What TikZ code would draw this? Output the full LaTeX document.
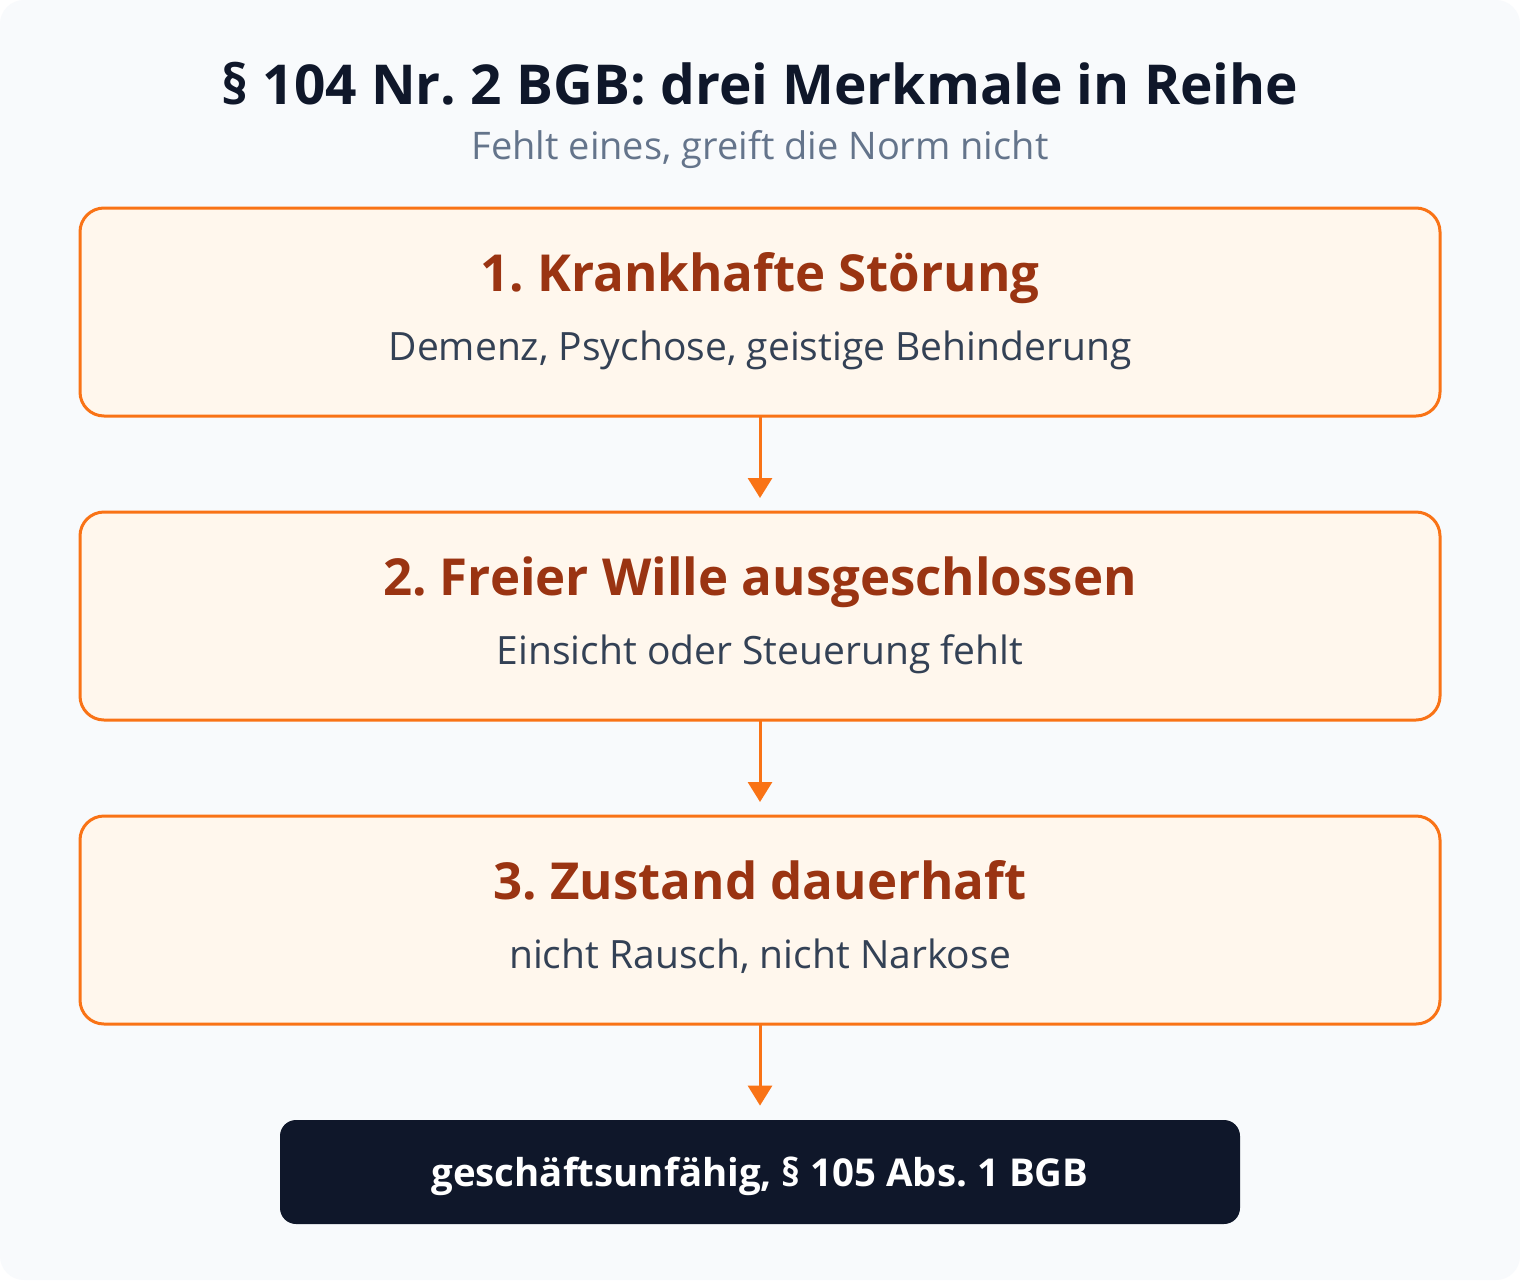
\documentclass[tikz,border=0pt]{standalone}
\usepackage{fontspec}
\setmainfont{Open Sans}[BoldFont={Open Sans Bold}]
\usetikzlibrary{positioning,arrows.meta}
\definecolor{pagebg}{HTML}{F8FAFC}
\definecolor{orangeline}{HTML}{F97316}
\definecolor{orangefill}{HTML}{FFF7ED}
\definecolor{headbrown}{HTML}{9A3412}
\definecolor{subslate}{HTML}{334155}
\definecolor{navy}{HTML}{0F172A}
\definecolor{greytext}{HTML}{64748B}
\frenchspacing

\begin{document}
\begin{tikzpicture}[x=0.5pt,y=-0.5pt,
    merkmal/.style={draw=orangeline,fill=orangefill,line width=1.5pt,
      rounded corners=12pt,minimum width=680pt,minimum height=104pt,
      inner sep=0pt,outer sep=0pt},
    kopf/.style={text=headbrown,font=\bfseries\fontsize{25.5}{30}\selectfont,
      text height=0.75em,text depth=0.25em},
    unter/.style={text=subslate,font=\fontsize{19.5}{23}\selectfont,
      text height=0.75em,text depth=0.25em},
    pfeil/.style={orangeline,line width=1.5pt,
      -{Triangle[width=12pt,length=10pt]},shorten >=7pt}]
      \fill[white] (0,0) rectangle (1520,1280) ;
      \fill[pagebg,rounded corners=12pt] (0,0) rectangle (1520,1280) ;
      \node[text=navy,font=\bfseries\fontsize{27.5}{33}\selectfont] %
      (titel) at (760,84) {§ 104 Nr. 2 BGB: drei Merkmale in Reihe} ;
      \node[text=greytext,font=\fontsize{19}{23}\selectfont] %
      (untertitel) at (760,150) {Fehlt eines, greift die Norm nicht} ;
      \node[merkmal] (m1) at (760,312) {} ;
      \node[merkmal,below=48pt of m1] (m2) {} ;
      \node[merkmal,below=48pt of m2] (m3) {} ;
      \node[kopf] (k1) at ([yshift=13pt]m1.center) {1. Krankhafte Störung} ;
      \node[unter] (u1) at ([yshift=-21.5pt]m1.center) %
      {Demenz, Psychose, geistige Behinderung} ;
      \node[kopf] (k2) at ([yshift=13pt]m2.center) {2. Freier Wille ausgeschlossen} ;
      \node[unter] (u2) at ([yshift=-21.5pt]m2.center) {Einsicht oder Steuerung fehlt} ;
      \node[kopf] (k3) at ([yshift=13pt]m3.center) {3. Zustand dauerhaft} ;
      \node[unter] (u3) at ([yshift=-21.5pt]m3.center) {nicht Rausch, nicht Narkose} ;
      \node[fill=navy,rounded corners=8pt,minimum width=480pt,minimum height=52pt,
      text=white,font=\bfseries\fontsize{19.2}{23}\selectfont] %
      (ergebnis) at (760,1172) %
      {\raisebox{-7pt}[0pt][0pt]{geschäftsunfähig, § 105 Abs. 1 BGB}} ;
      \draw[pfeil] (m1) -- (m2) ;
      \draw[pfeil] (m2) -- (m3) ;
      \draw[pfeil] (m3) -- (ergebnis) ;
    \end{tikzpicture}
\end{document}
